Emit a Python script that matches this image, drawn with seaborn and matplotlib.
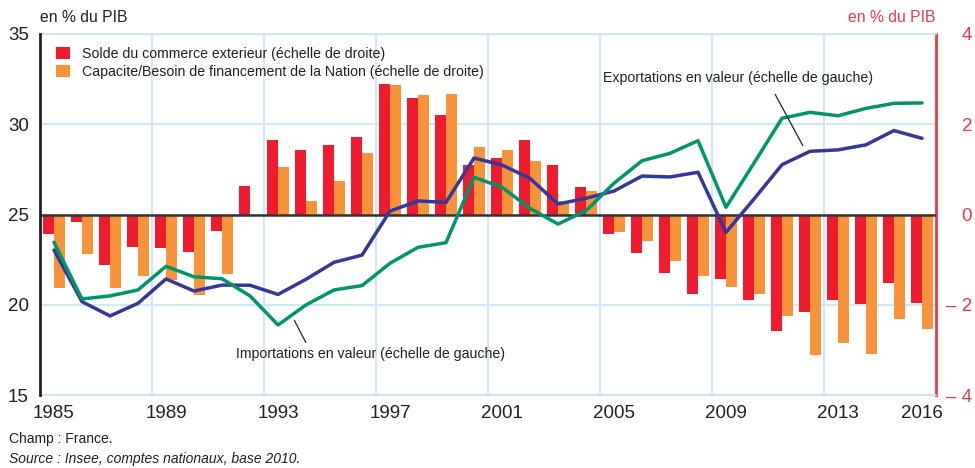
import numpy as np
import pandas as pd
import matplotlib
matplotlib.use("Agg")
import matplotlib.pyplot as plt
import seaborn as sns

# data
years = list(range(1985, 2017))
# right scale (% du PIB)
solde = [-0.43, -0.17, -1.13, -0.71, -0.74, -0.82, -0.36, 0.64, 1.64, 1.44,
         1.53, 1.71, 2.90, 2.59, 2.20, 1.09, 1.26, 1.66, 1.09, 0.62,
         -0.44, -0.86, -1.30, -1.77, -1.43, -1.90, -2.59, -2.17, -1.90, -1.99,
         -1.52, -1.97]
capacite = [-1.62, -0.87, -1.62, -1.36, -1.45, -1.78, -1.31, -0.03, 1.06, 0.31,
            0.75, 1.37, 2.88, 2.64, 2.67, 1.49, 1.44, 1.18, 0.31, 0.53,
            -0.39, -0.59, -1.04, -1.37, -1.61, -1.77, -2.25, -3.12, -2.85, -3.10,
            -2.32, -2.54]
# left scale (% du PIB)
exportations = [23.03, 20.17, 19.38, 20.08, 21.43, 20.76, 21.09, 21.08, 20.57, 21.41,
                22.35, 22.75, 25.19, 25.75, 25.67, 28.13, 27.74, 27.00, 25.58, 25.90,
                26.30, 27.13, 27.08, 27.34, 24.01, 25.86, 27.76, 28.50, 28.58, 28.86,
                29.65, 29.22]
importations = [23.46, 20.32, 20.49, 20.82, 22.13, 21.55, 21.44, 20.49, 18.88, 19.99,
                20.82, 21.06, 22.30, 23.18, 23.44, 27.06, 26.51, 25.34, 24.47, 25.21,
                26.73, 27.98, 28.39, 29.09, 25.40, 27.85, 30.33, 30.66, 30.47, 30.88,
                31.16, 31.18]
label_years = [1985, 1989, 1993, 1997, 2001, 2005, 2009, 2013, 2016]
grid_years = [1989, 1993, 1997, 2001, 2005, 2009, 2013]
lab_solde = "Solde du commerce exterieur (échelle de droite)"
lab_capa = "Capacite/Besoin de financement de la Nation (échelle de droite)"

RED = "#ee1c2e"
ORANGE = "#f7943a"
BLUE = "#36379a"
GREEN = "#00966a"
AXRED = "#e8394a"
GRID = "#c6e3f5"
TXT = "#231f20"

sns.set_style("white")
plt.rcParams["font.family"] = ["Liberation Sans", "DejaVu Sans"]

n = len(years)
bars = pd.DataFrame({
    "annee": years * 2,
    "valeur": solde + capacite,
    "serie": [lab_solde] * n + [lab_capa] * n,
})

fig = plt.figure(figsize=(9.75, 4.68), dpi=100)
ax = fig.add_axes([40 / 975, 1 - 395 / 468, 896 / 975, 361 / 468])

sns.barplot(data=bars, x="annee", y="valeur", hue="serie", palette=[RED, ORANGE],
            saturation=1, width=0.8, errorbar=None, linewidth=0, ax=ax)
ax2 = ax.twinx()

ax.set_xlim(-0.5, n - 0.5)
ax.set_ylim(-4, 4)
ax.set_axisbelow(True)
ax.axhline(0, color="#333333", lw=1.8, zorder=4)

# right axis: bars
ax.yaxis.tick_right()
ax.set_yticks([-4, -2, 0, 2, 4])
ax.set_yticklabels(["– 4", "– 2", "0", "2", "4"])
ax.tick_params(axis="y", length=0, pad=26, labelsize=13.5, labelcolor=AXRED)
for t in ax.get_yticklabels():
    t.set_ha("right")
ax.grid(axis="y", color=GRID, lw=1.2)

ax.set_xticks([years.index(y) for y in label_years])
ax.set_xticklabels([str(y) for y in label_years])
ax.set_xticks([years.index(y) - 0.5 for y in grid_years], minor=True)
ax.tick_params(axis="x", which="both", length=0, pad=7, labelsize=13.5, labelcolor=TXT)
ax.grid(axis="x", which="minor", color=GRID, lw=1.2)
ax.grid(axis="x", which="major", visible=False)
ax.set_xlabel("")
ax.set_ylabel("")
ax.spines["left"].set_visible(False)
ax.spines["right"].set_color(AXRED)
ax.spines["right"].set_linewidth(2)
for s in ["top", "bottom"]:
    ax.spines[s].set_color(GRID)
    ax.spines[s].set_linewidth(1.2)

h, l = ax.get_legend_handles_labels()
ax.legend(h, l, loc="upper left", bbox_to_anchor=(0.018, 0.965), frameon=False,
          fontsize=10.2, handlelength=1.0, handleheight=1.0, handletextpad=0.8,
          labelspacing=0.28, borderaxespad=0, borderpad=0, labelcolor=TXT)

# left axis: lines
pos = np.arange(n)
sns.lineplot(x=pos, y=exportations, color=BLUE, lw=2.5, ax=ax2)
sns.lineplot(x=pos, y=importations, color=GREEN, lw=2.5, ax=ax2)
ax2.set_ylim(15, 35)
ax2.yaxis.tick_left()
ax2.set_yticks([15, 20, 25, 30, 35])
ax2.tick_params(axis="y", length=0, pad=8, labelsize=13.5, labelcolor=TXT)
ax2.grid(False)
for s in ["top", "bottom", "right"]:
    ax2.spines[s].set_visible(False)
ax2.spines["left"].set_color(TXT)
ax2.spines["left"].set_linewidth(2)

ax2.text(24.43, 32.56, "Exportations en valeur (échelle de gauche)", fontsize=10.2,
         color=TXT, ha="center", va="center")
ax2.annotate("", xy=(26.79, 28.68), xytext=(25.71, 31.79),
             arrowprops=dict(arrowstyle="-", color=TXT, lw=0.9))
ax2.text(11.29, 17.27, "Importations en valeur (échelle de gauche)", fontsize=10.2,
         color=TXT, ha="center", va="center")
ax2.annotate("", xy=(8.54, 19.27), xytext=(9.04, 17.77),
             arrowprops=dict(arrowstyle="-", color=TXT, lw=0.9))

fig.text(40 / 975, 1 - 18 / 468, "en % du PIB", fontsize=11.3, color=TXT, ha="left", va="center")
fig.text(936 / 975, 1 - 18 / 468, "en % du PIB", fontsize=11.3, color=AXRED, ha="right", va="center")
fig.text(9 / 975, 1 - 439 / 468, "Champ : France.", fontsize=10, color=TXT, ha="left", va="center")
fig.text(9 / 975, 1 - 459 / 468, "Source : Insee, comptes nationaux, base 2010.", fontsize=10,
         color=TXT, ha="left", va="center", style="italic")

fig.savefig("out.png", dpi=100)
